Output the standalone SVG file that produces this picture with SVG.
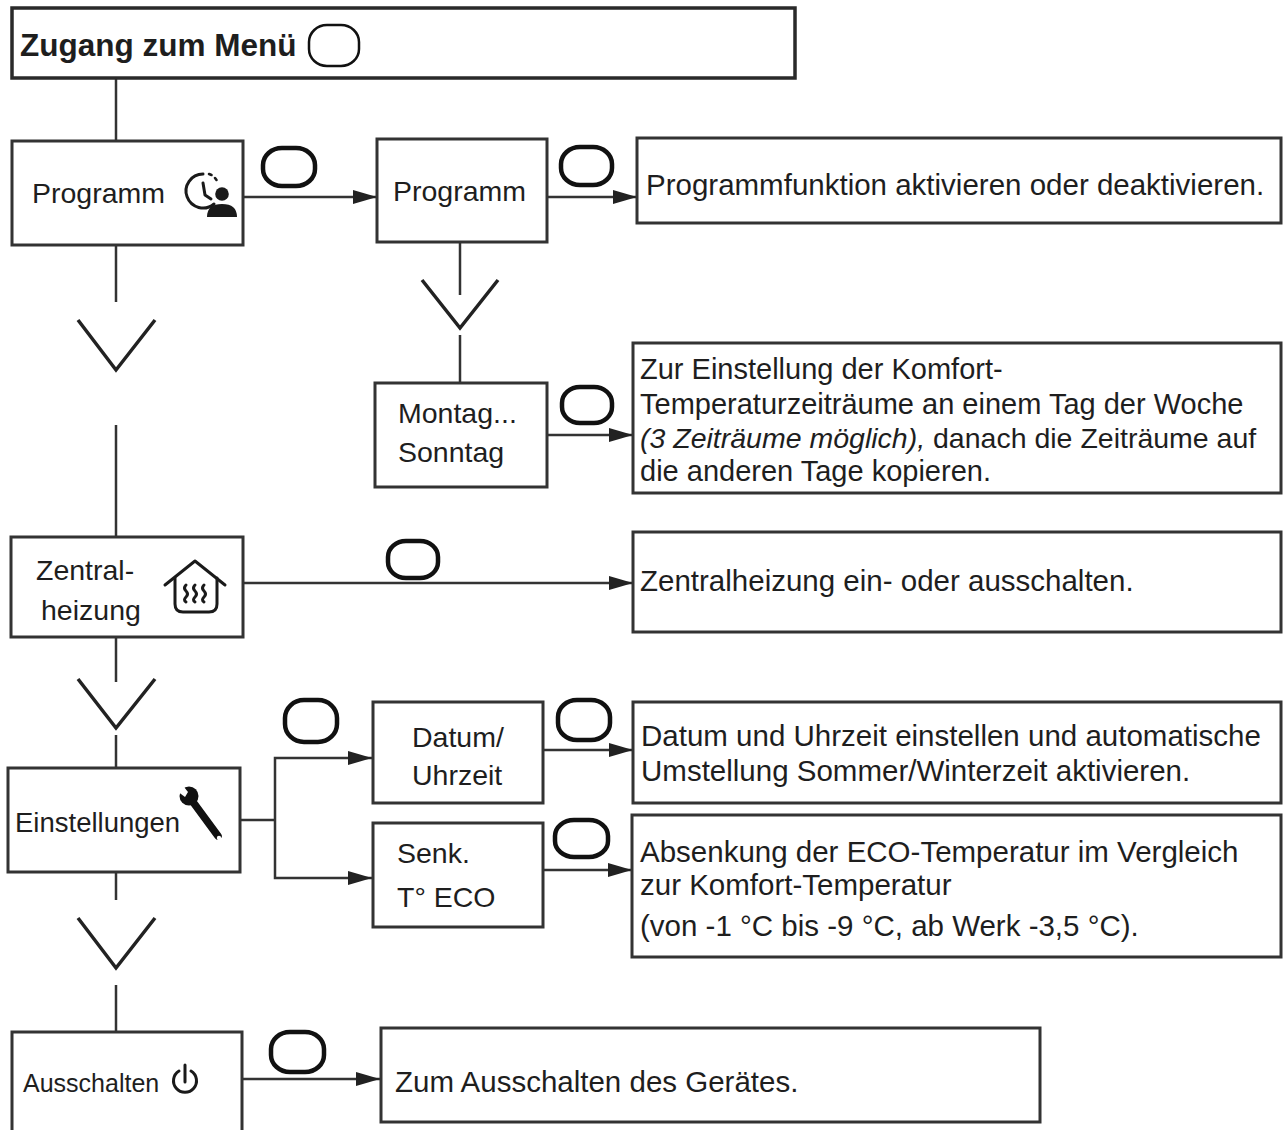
<svg xmlns="http://www.w3.org/2000/svg" width="1283" height="1130" viewBox="0 0 1283 1130">
<style>
.box{fill:#fff;stroke:#333;stroke-width:3}
.ln{fill:none;stroke:#333;stroke-width:2.5}
.chev{fill:none;stroke:#222;stroke-width:3.5}
.btn{fill:none;stroke:#111;stroke-width:4.5}
.t{font-family:"Liberation Sans",Arial,sans-serif;font-size:28.5px;fill:#1e1e1e}
.d{font-family:"Liberation Sans",Arial,sans-serif;font-size:29.5px;fill:#1e1e1e}
.ic{fill:none;stroke:#1a1a1a;stroke-width:3;stroke-linecap:round;stroke-linejoin:round}
</style>
<defs>
<marker id="ah" markerUnits="userSpaceOnUse" markerWidth="26" markerHeight="16" refX="24" refY="8" orient="auto">
<path d="M0,1 L24,8 L0,15 Z" fill="#222"/>
</marker>
</defs>
<rect width="1283" height="1130" fill="#fff"/>

<g id="connectors">
<line class="ln" x1="116" y1="78" x2="116" y2="141"/>
<line class="ln" x1="116" y1="245" x2="116" y2="302"/>
<polyline class="chev" points="78,320 116,370 155,320"/>
<line class="ln" x1="116" y1="425" x2="116" y2="537"/>
<line class="ln" x1="116" y1="637" x2="116" y2="682"/>
<polyline class="chev" points="78,679 116,728 155,679"/>
<line class="ln" x1="116" y1="735" x2="116" y2="768"/>
<line class="ln" x1="116" y1="872" x2="116" y2="900"/>
<polyline class="chev" points="78,918 116,968 155,918"/>
<line class="ln" x1="116" y1="985" x2="116" y2="1032"/>
<line class="ln" x1="460" y1="242" x2="460" y2="295"/>
<polyline class="chev" points="422,280 460,328 498,280"/>
<line class="ln" x1="460" y1="335" x2="460" y2="383"/>
<line class="ln" x1="243" y1="197" x2="377" y2="197" marker-end="url(#ah)"/>
<line class="ln" x1="547" y1="197" x2="637" y2="197" marker-end="url(#ah)"/>
<line class="ln" x1="547" y1="435" x2="633" y2="435" marker-end="url(#ah)"/>
<line class="ln" x1="243" y1="583" x2="633" y2="583" marker-end="url(#ah)"/>
<line class="ln" x1="240" y1="820" x2="275" y2="820"/>
<path class="ln" d="M275,820 V758 H372" marker-end="url(#ah)"/>
<path class="ln" d="M275,820 V878 H372" marker-end="url(#ah)"/>
<line class="ln" x1="543" y1="750" x2="633" y2="750" marker-end="url(#ah)"/>
<line class="ln" x1="543" y1="870" x2="632" y2="870" marker-end="url(#ah)"/>
<line class="ln" x1="242" y1="1079" x2="380" y2="1079" marker-end="url(#ah)"/>
<g id="buttons">
<rect class="btn" x="263" y="148" width="52" height="38" rx="19" ry="17"/>
<rect class="btn" x="561" y="147" width="51" height="38" rx="19" ry="17"/>
<rect class="btn" x="562" y="387" width="50" height="36" rx="18" ry="16"/>
<rect class="btn" x="388" y="541" width="50" height="37" rx="18" ry="16"/>
<rect class="btn" x="285" y="700" width="52" height="42" rx="19" ry="18"/>
<rect class="btn" x="558" y="700" width="52" height="40" rx="19" ry="17"/>
<rect class="btn" x="555" y="820" width="53" height="37" rx="19" ry="16"/>
<rect class="btn" x="271" y="1032" width="53" height="40" rx="19" ry="17"/>
</g>
</g>

<g id="header">
<rect x="12" y="8" width="783" height="70" fill="#fff" stroke="#2a2a2a" stroke-width="3.5"/>
<text x="20" y="56" font-family="Liberation Sans,Arial,sans-serif" font-weight="bold" font-size="31.5" fill="#1e1e1e">Zugang zum Menü</text>
<rect x="309" y="25" width="50" height="41" rx="18" ry="17" fill="none" stroke="#111" stroke-width="2.5"/>
</g>

<g id="programm">
<rect class="box" x="12" y="141" width="231" height="104"/>
<text class="t" x="32" y="203">Programm</text>
<g>
<path class="ic" d="M203,174 A17,17 0 1,0 214,204" stroke-width="3.4"/>
<path d="M209,174 l2.5,1 M215,178 l1.5,2" stroke="#1a1a1a" stroke-width="2.6" stroke-linecap="round"/>
<path class="ic" d="M203,183 L205,195 L211,199" stroke-width="2.8"/>
<circle cx="222" cy="194" r="6.8" fill="#1a1a1a"/>
<path d="M207,217 Q207,204 222,204 Q237,204 237,217 Z" fill="#1a1a1a"/>
</g>
</g>

<g id="programm2">
<rect class="box" x="377" y="139" width="170" height="103"/>
<text class="t" x="393" y="201">Programm</text>
</g>

<g id="programm-desc">
<rect class="box" x="637" y="138" width="644" height="85"/>
<text class="d" x="646" y="195">Programmfunktion aktivieren oder deaktivieren.</text>
</g>

<g id="montag">
<rect class="box" x="375" y="383" width="172" height="104"/>
<text class="t" x="398" y="423">Montag...</text>
<text class="t" x="398" y="462">Sonntag</text>
</g>

<g id="montag-desc">
<rect class="box" x="633" y="343" width="648" height="150"/>
<text class="d" x="640" y="379" style="font-size:29px">Zur Einstellung der Komfort-</text>
<text class="d" x="640" y="414" style="font-size:29px">Temperaturzeiträume an einem Tag der Woche</text>
<text class="d" x="640" y="448" style="font-size:28.5px"><tspan font-style="italic">(3 Zeiträume möglich),</tspan> danach die Zeiträume auf</text>
<text class="d" x="640" y="481" style="font-size:29px">die anderen Tage kopieren.</text>
</g>

<g id="zentral">
<rect class="box" x="11" y="537" width="232" height="100"/>
<text class="t" x="36" y="580">Zentral-</text>
<text class="t" x="41" y="620">heizung</text>
<g>
<polyline class="ic" points="165,585 195,561 225,585"/>
<path class="ic" d="M175,578 V604 Q175,612 183,612 H209 Q217,612 217,604 V578"/>
<path class="ic" stroke-width="2.2" d="M186,585 q-3,3 0,6 q3,3 0,6 q-3,3 0,5 M195,585 q-3,3 0,6 q3,3 0,6 q-3,3 0,5 M204,585 q-3,3 0,6 q3,3 0,6 q-3,3 0,5"/>
</g>
</g>

<g id="zentral-desc">
<rect class="box" x="633" y="532" width="648" height="100"/>
<text class="d" x="640" y="591">Zentralheizung ein- oder ausschalten.</text>
</g>

<g id="einstellungen">
<rect class="box" x="8" y="768" width="232" height="104"/>
<text class="t" x="15" y="832" style="font-size:27.5px">Einstellungen</text>
<g>
<line x1="193" y1="802" x2="218" y2="836" stroke="#111" stroke-width="7.5" stroke-linecap="round"/>
<circle cx="189" cy="796" r="9.5" fill="#111"/>
<path d="M180,782 L188,792 L185,797 L177,791 Z" fill="#fff"/>
<circle cx="219" cy="838" r="2.2" fill="#fff"/>
</g>
</g>

<g id="datum">
<rect class="box" x="373" y="702" width="170" height="101"/>
<text class="t" x="412" y="747">Datum/</text>
<text class="t" x="412" y="785">Uhrzeit</text>
</g>

<g id="datum-desc">
<rect class="box" x="633" y="702" width="648" height="101"/>
<text class="d" x="641" y="746">Datum und Uhrzeit einstellen und automatische</text>
<text class="d" x="641" y="781">Umstellung Sommer/Winterzeit aktivieren.</text>
</g>

<g id="senk">
<rect class="box" x="373" y="823" width="170" height="104"/>
<text class="t" x="397" y="863">Senk.</text>
<text class="t" x="397" y="907">T° ECO</text>
</g>

<g id="senk-desc">
<rect class="box" x="632" y="815" width="649" height="142"/>
<text class="d" x="640" y="862">Absenkung der ECO-Temperatur im Vergleich</text>
<text class="d" x="640" y="895">zur Komfort-Temperatur</text>
<text class="d" x="640" y="936">(von -1 °C bis -9 °C, ab Werk -3,5 °C).</text>
</g>

<g id="ausschalten">
<rect class="box" x="12" y="1032" width="230" height="110"/>
<text class="t" x="23" y="1092" style="font-size:25px">Ausschalten</text>
<g>
<path class="ic" d="M179,1071 A11.5,11.5 0 1,0 191,1071"/>
<line class="ic" x1="185" y1="1065" x2="185" y2="1082"/>
</g>
</g>

<g id="ausschalten-desc">
<rect class="box" x="381" y="1028" width="659" height="94"/>
<text class="d" x="395" y="1092">Zum Ausschalten des Gerätes.</text>
</g>
</svg>
